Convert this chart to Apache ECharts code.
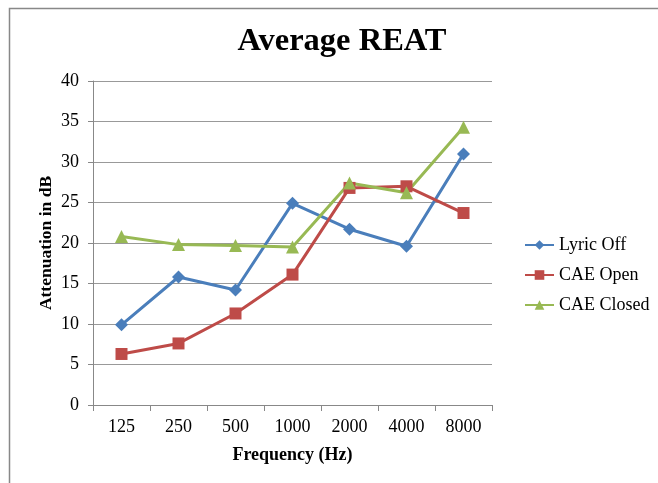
<!DOCTYPE html>
<html><head><meta charset="utf-8">
<script src="https://cdn.jsdelivr.net/npm/echarts@6/dist/echarts.min.js"></script>
<style>html,body{margin:0;padding:0;background:#fff}#c{width:658px;height:483px}</style>
</head><body><div id="c"></div>
<script>
const categories = ['125','250','500','1000','2000','4000','8000'];
const lyricOff = [9.9, 15.8, 14.2, 24.9, 21.7, 19.6, 31.0];
const caeOpen = [6.3, 7.6, 11.3, 16.1, 26.8, 27.0, 23.7];
const caeClosed = [20.8, 19.8, 19.7, 19.5, 27.4, 26.2, 34.3];
const FONT = '"Liberation Serif","Times New Roman",serif';
const chart = echarts.init(document.getElementById('c'));
function s(name, data, color, symbol, size){
  return {name, type:'line', data, symbol, symbolSize:size, showAllSymbol:true,
    lineStyle:{color, width:3}, itemStyle:{color}, emphasis:{disabled:true}, z:3};
}
chart.setOption({
  animation:false,
  graphic:[{type:'rect', shape:{x:9.5,y:8.5,width:700,height:600}, style:{fill:'none',stroke:'#888',lineWidth:1.5}, silent:true}],
  title:{text:'Average REAT', left:337, top:20, textAlign:'center',
    textStyle:{fontFamily:FONT, fontWeight:'bold', fontSize:32.5, color:'#000'}},
  legend:{orient:'vertical', left:519, top:231, itemGap:12, itemWidth:29, itemHeight:12,
    textStyle:{fontFamily:FONT, fontSize:18, color:'#000'},
    data:['Lyric Off','CAE Open','CAE Closed']},
  grid:{left:93, right:166, top:81, bottom:78},
  xAxis:{type:'category', data:categories, boundaryGap:true,
    name:'Frequency (Hz)', nameLocation:'middle', nameGap:41,
    nameTextStyle:{fontFamily:FONT, fontWeight:'bold', fontSize:18, color:'#000'},
    axisLine:{lineStyle:{color:'#888'}}, axisTick:{show:true, length:6, lineStyle:{color:'#888'}},
    axisLabel:{fontFamily:FONT, fontSize:18, color:'#000', margin:13}},
  yAxis:{type:'value', min:0, max:40, interval:5,
    name:'Attenuation in dB', nameLocation:'middle', nameGap:38, nameMoveOverlap:false,
    nameTextStyle:{fontFamily:FONT, fontWeight:'bold', fontSize:17.5, color:'#000'},
    axisLine:{show:true, lineStyle:{color:'#888'}}, axisTick:{show:true, length:5, lineStyle:{color:'#888'}},
    splitLine:{lineStyle:{color:'#999', width:1}},
    axisLabel:{fontFamily:FONT, fontSize:18, color:'#000', margin:14}},
  series:[
    s('Lyric Off', lyricOff, '#4A7EBB', 'diamond', 13),
    s('CAE Open', caeOpen, '#BE4B48', 'rect', 12),
    s('CAE Closed', caeClosed, '#98B954', 'triangle', 13)
  ]
});
</script></body></html>
